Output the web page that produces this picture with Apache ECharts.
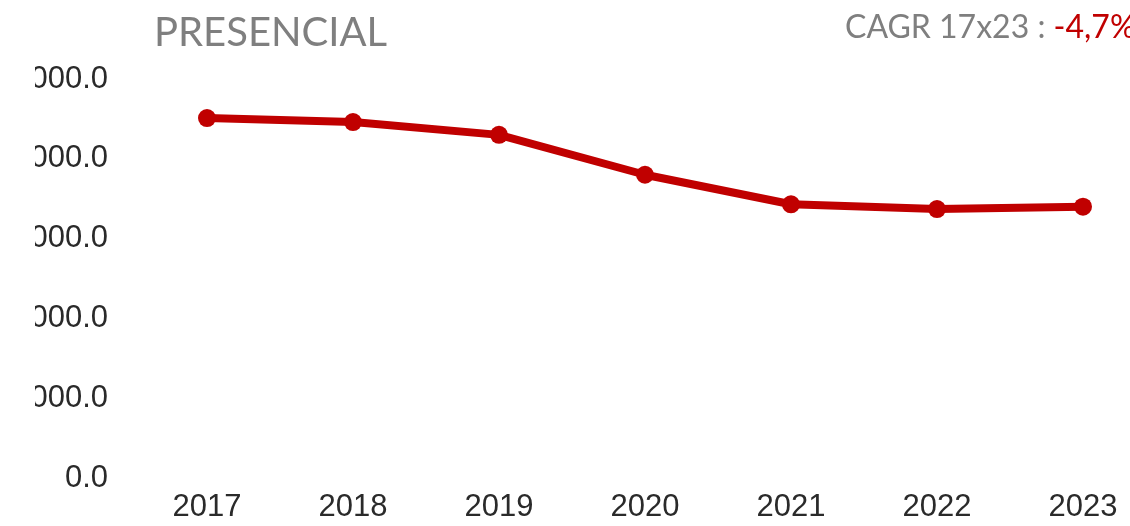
<!DOCTYPE html>
<html>
<head>
<meta charset="utf-8">
<script src="https://cdn.jsdelivr.net/npm/echarts@6/dist/echarts.min.js"></script>
<style>
html,body{margin:0;padding:0;background:#fff;}
#c{width:1130px;height:526px;}
</style>
</head>
<body>
<div id="c"></div>
<script>
const categories = ['2017','2018','2019','2020','2021','2022','2023'];
const values = [4510, 4460, 4300, 3800, 3430, 3370, 3400];
const yTicks = [0, 1000, 2000, 3000, 4000, 5000];
const titleText = 'PRESENCIAL';
const cagrLabel = 'CAGR 17x23 : ';
const cagrValue = '-4,7%';

const chart = echarts.init(document.getElementById('c'));
chart.setOption({
  animation: false,
  backgroundColor: '#ffffff',
  title: [
    { text: titleText, left: 149, top: 8,
      textStyle: { fontFamily: 'Lato', fontSize: 40, fontWeight: 'normal', color: '#7f7f7f' } },
    { text: '{g|' + cagrLabel + '}{r|' + cagrValue + '}', left: 840, top: 7,
      textStyle: { fontWeight: 'normal', rich: {
        g: { fontFamily: 'Lato', fontSize: 32, fontWeight: 'normal', color: '#7f7f7f' },
        r: { fontFamily: 'Lato', fontSize: 32, fontWeight: 'normal', color: '#c00000' } } } }
  ],
  grid: { left: 207, right: 47, top: 79, bottom: 48, containLabel: false },
  xAxis: {
    type: 'category', data: categories, boundaryGap: false,
    axisLine: { show: false }, axisTick: { show: false },
    axisLabel: { fontFamily: 'Liberation Sans', fontSize: 31, color: '#2a2a2a', margin: 14 }
  },
  yAxis: {
    type: 'value', min: yTicks[0], max: yTicks[yTicks.length - 1], interval: yTicks[1] - yTicks[0],
    splitLine: { show: false }, axisLine: { show: false }, axisTick: { show: false },
    axisLabel: { fontFamily: 'Liberation Sans', fontSize: 31, color: '#2a2a2a', margin: 99,
      formatter: v => v.toFixed(1) }
  },
  graphic: [
    { type: 'rect', left: 0, top: 60, z: 100, shape: { width: 35, height: 380 }, style: { fill: '#ffffff' } }
  ],
  series: [{
    type: 'line', data: values,
    lineStyle: { color: '#c00000', width: 8 },
    itemStyle: { color: '#c00000' },
    symbol: 'circle', symbolSize: 18, showSymbol: true
  }]
});
</script>
</body>
</html>
